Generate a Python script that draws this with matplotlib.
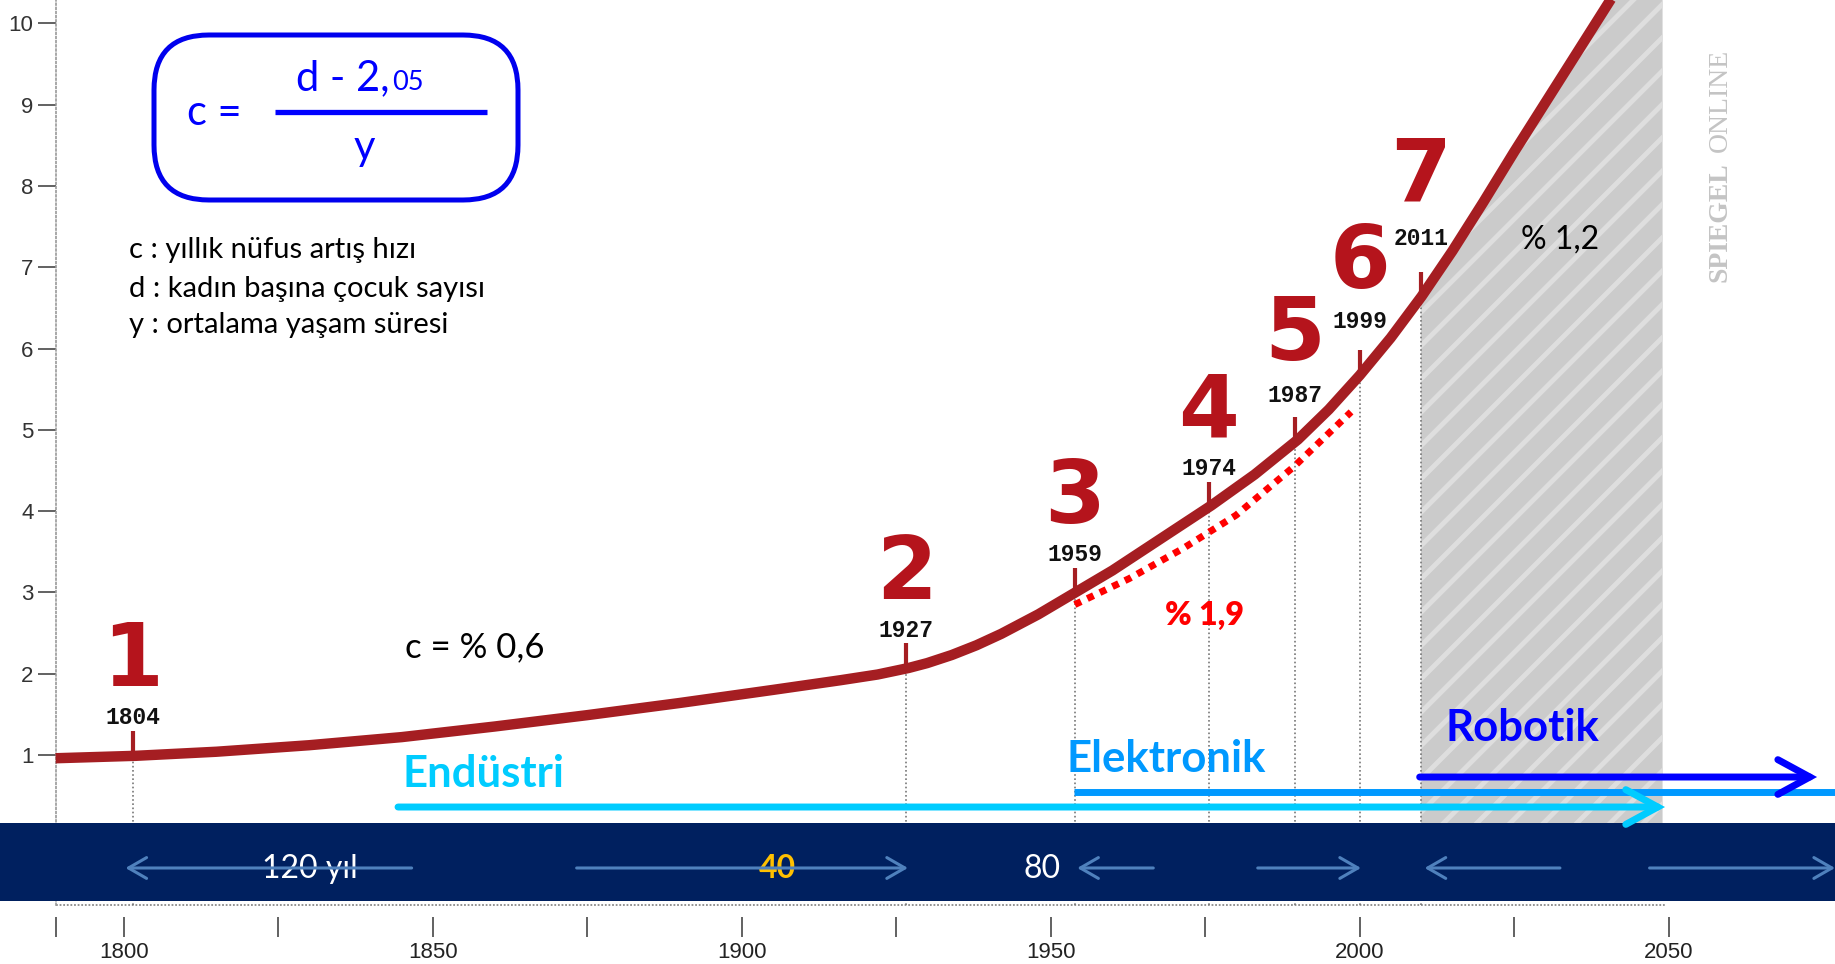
import matplotlib
matplotlib.use("Agg")
import matplotlib.pyplot as plt
import numpy as np
from matplotlib.patches import FancyBboxPatch

plt.rcParams["font.family"] = ["Lato", "DejaVu Sans"]
plt.rcParams["hatch.linewidth"] = 3.5

# World population (billions); x values are read against the chart's own year axis
CURVE_YEARS = [1789, 1802, 1815, 1830, 1845, 1860, 1875, 1890, 1905, 1916, 1922,
               1927, 1930, 1934, 1938, 1942, 1948, 1954, 1960, 1966, 1972, 1976,
               1983, 1990, 1995, 2000, 2005, 2010, 2015, 2020, 2025, 2033, 2043]
CURVE_POP = [0.96, 0.99, 1.04, 1.12, 1.22, 1.35, 1.49, 1.64, 1.80, 1.92, 1.99,
             2.07, 2.13, 2.23, 2.35, 2.49, 2.73, 3.00, 3.27, 3.57, 3.87, 4.07,
             4.45, 4.88, 5.25, 5.67, 6.13, 6.64, 7.20, 7.80, 8.42, 9.38, 10.58]

# billion milestones
MILESTONE_NUMBERS = ["1", "2", "3", "4", "5", "6", "7"]
MILESTONE_LABELS = ["1804", "1927", "1959", "1974", "1987", "1999", "2011"]
MILESTONE_YEARS = [1801.5, 1926.6, 1953.9, 1975.6, 1989.5, 2000.0, 2009.9]

# red dotted 1.9 % growth line
GROWTH_YEARS = [1953.9, 1962.7, 1971.4, 1980.0, 1989.4, 1998.6]
GROWTH_POP = [2.85, 3.17, 3.54, 3.95, 4.55, 5.22]

# projection (shaded) period
PROJ_START = 2009.9
PROJ_END = 2049.0

# technology eras
ERA_NAMES = ["Endüstri", "Elektronik", "Robotik"]
ERA_START = [1844.4, 1953.8, 2009.7]
ERA_END = [2049.4, 2080.0, 2074.0]

# spans in the dark band
SPAN_LABELS = ["120 yıl", "40", "80"]
SPAN_LABEL_YEARS = [1830.1, 1905.8, 1948.6]
BAND_ARROW_TAIL = [1846.6, 1873.3, 1966.6, 1983.5, 2032.4, 2046.9]
BAND_ARROW_TIP = [1800.3, 1926.9, 1954.3, 2000.2, 2010.5, 2076.9]

Y_TICKS = [1, 2, 3, 4, 5, 6, 7, 8, 9, 10]
X_TICKS = [1800, 1850, 1900, 1950, 2000, 2050]
X_MINOR = [1789, 1825, 1875, 1925, 1975, 2025]

CURVE_RED = "#a51e22"
NUMBER_RED = "#b5141c"
NAVY = "#00205f"
BAND_BLUE = "#4f81bd"
ERA_COLORS = ["#00ccff", "#0099ff", "#0000ff"]
PX = 0.72  # points per pixel at dpi 100
LABEL_LIFT = [0, 0, 0, 0, 8, 15, 20]   # extra lift (px) of the year labels
NUMBER_LIFT = [0, 0, 0, 0, 12, 17, 26]  # extra lift (px) of the big numbers

fig = plt.figure(figsize=(18.35, 9.64), dpi=100)
ax = fig.add_axes([0, 0, 1, 1])
ax.set_xlim(1780.0, 2076.9)
ax.set_ylim(-1.571, 10.287)

years = np.array(CURVE_YEARS, dtype=float)
pop = np.array(CURVE_POP, dtype=float)
m_years = np.array(MILESTONE_YEARS)
m_pop = np.interp(m_years, years, pop)

# axes
for side in ("top", "right"):
    ax.spines[side].set_visible(False)
ax.spines["left"].set_position(("data", X_MINOR[0]))
ax.spines["left"].set_bounds(-0.845, 10.287)
ax.spines["left"].set_linestyle((0, (1, 1.5)))
ax.spines["left"].set_color("#9a9a9a")
ax.spines["left"].set_linewidth(1.2)
ax.spines["bottom"].set_position(("data", -0.99))
ax.spines["bottom"].set_visible(False)
ax.hlines(-0.845, X_MINOR[0], 2049.4, colors="#8a8a8a", linestyles=(0, (1, 1)), lw=1.3)

ax.set_yticks(Y_TICKS)
ax.set_yticklabels([str(v) for v in Y_TICKS])
ax.set_xticks(X_TICKS)
ax.set_xticklabels([str(v) for v in X_TICKS])
ax.set_xticks(X_MINOR, minor=True)
ax.tick_params(axis="y", direction="out", length=13, width=1.3, color="#555555",
               pad=3, labelsize=16, labelcolor="#333333")
ax.tick_params(axis="x", which="both", direction="out", length=14.4, width=1.3,
               color="#555555")
ax.tick_params(axis="x", which="major", pad=4, labelsize=16, labelcolor="#222222")
for lbl in ax.get_xticklabels() + ax.get_yticklabels():
    lbl.set_fontfamily("Liberation Sans")

# shaded projection period under the curve
mask = (years > PROJ_START) & (years < PROJ_END)
proj_x = np.concatenate([[PROJ_START], years[mask], [PROJ_END]])
proj_y = np.interp(proj_x, years, pop)
ax.fill_between(proj_x, 0, proj_y, facecolor="#cbcbcb", edgecolor="#dedede",
                hatch="/", lw=0, zorder=2)

# milestone drop lines and ticks
ax.vlines(m_years, -0.845, m_pop, colors="#777777", linestyles=(0, (1, 1.5)),
          lw=1.2, zorder=3)
ax.vlines(m_years, m_pop, m_pop + 0.31, colors=CURVE_RED, lw=3, zorder=6)

# dark band
ax.axhspan(-0.796, 0.164, facecolor=NAVY, edgecolor="none", zorder=4)

# population curve
ax.plot(years, pop, color=CURVE_RED, lw=7.5, solid_capstyle="butt",
        solid_joinstyle="round", zorder=6)

# 1.9 % dotted line
ax.plot(GROWTH_YEARS, GROWTH_POP, color="#ff0000", lw=5, linestyle=(0, (1, 1)),
        dash_capstyle="butt", zorder=6)

# milestone labels
for i, (yr, p, num, lab) in enumerate(zip(m_years, m_pop, MILESTONE_NUMBERS,
                                         MILESTONE_LABELS)):
    ax.annotate(lab, (yr, p), xytext=(0, (32 + LABEL_LIFT[i]) * PX),
                textcoords="offset points", ha="center", va="baseline",
                fontsize=16.5, fontweight="bold", family="Liberation Mono",
                color="#111111", zorder=7)
    ax.annotate(num, (yr, p), xytext=(0, (70 + NUMBER_LIFT[i]) * PX),
                textcoords="offset points", ha="center", va="baseline",
                fontsize=63, fontweight="bold", family="DejaVu Sans",
                color=NUMBER_RED, zorder=7)

# growth-rate annotations
ax.text(1856.8, 2.205, "c = % 0,6", ha="center", va="baseline", fontsize=25,
        color="black", zorder=7)
ax.text(1974.9, 2.60, "% 1,9", ha="center", va="baseline", fontsize=23,
        fontweight="heavy", color="#ff0000", zorder=7)
ax.text(2032.4, 7.236, "% 1,2", ha="center", va="baseline", fontsize=23,
        color="black", zorder=7)

# technology eras
era_levels = [0.36, 0.545, 0.729]
era_label_pos = [(1845.2, 0.606), (1952.6, 0.791), (2013.8, 1.172)]
for k in [1, 0, 2]:
    if k == 1:
        ax.plot([ERA_START[k], ERA_END[k]], [era_levels[k]] * 2, color=ERA_COLORS[k],
                lw=5, solid_capstyle="butt", zorder=5)
    else:
        ax.annotate("", xy=(ERA_END[k], era_levels[k]), xytext=(ERA_START[k], era_levels[k]),
                    arrowprops=dict(arrowstyle="->,head_length=2.3,head_width=1.25",
                                    mutation_scale=10, lw=5, color=ERA_COLORS[k],
                                    shrinkA=0, shrinkB=0, capstyle="round",
                                    joinstyle="miter"),
                    zorder=5)
    ax.text(era_label_pos[k][0], era_label_pos[k][1], ERA_NAMES[k], ha="left",
            va="baseline", fontsize=31.5, fontweight="bold", color=ERA_COLORS[k],
            zorder=7)

# band spans
span_colors = ["white", "#ffc000", "white"]
span_weights = ["normal", "bold", "normal"]
for lab, yr, c, w in zip(SPAN_LABELS, SPAN_LABEL_YEARS, span_colors, span_weights):
    ax.text(yr, -0.51, lab, ha="center", va="baseline", fontsize=23, color=c,
            fontweight=w, zorder=6)
for tail, tip in zip(BAND_ARROW_TAIL, BAND_ARROW_TIP):
    ax.annotate("", xy=(tip, -0.39), xytext=(tail, -0.39),
                arrowprops=dict(arrowstyle="->,head_length=1.3,head_width=0.75",
                                mutation_scale=10, lw=2.2, color=BAND_BLUE,
                                shrinkA=0, shrinkB=0),
                zorder=7)

# formula box (positions in inches from the bottom-left corner)
inch = fig.dpi_scale_trans
blue = "#0000ff"
box = FancyBboxPatch((1.54, 7.64), 3.64, 1.65, boxstyle="round,pad=0,rounding_size=0.55",
                     transform=inch, fill=False, ec="#0000ee", lw=3.6, zorder=8)
ax.add_patch(box)
ax.text(1.87, 8.39, "c =", transform=inch, fontsize=30, color=blue, va="baseline", zorder=8)
ax.text(2.96, 8.74, "d - 2,", transform=inch, fontsize=30, color=blue, va="baseline", zorder=8)
ax.text(3.92, 8.74, "05", transform=inch, fontsize=19.5, color=blue, va="baseline", zorder=8)
ax.plot([2.75, 4.87], [8.52, 8.52], transform=inch, color=blue, lw=3.8,
        solid_capstyle="butt", zorder=8)
ax.text(3.64, 8.04, "y", transform=inch, fontsize=30, color=blue, ha="center",
        va="baseline", zorder=8)

legend_lines = ["c : yıllık nüfus artış hızı",
                "d : kadın başına çocuk sayısı",
                "y : ortalama yaşam süresi"]
for line, base in zip(legend_lines, [7.06, 6.67, 6.31]):
    ax.text(1.29, base, line, transform=inch, fontsize=21, color="black",
            va="baseline", zorder=8)

# watermark
ax.text(17.2, 7.415, "SPIEGEL", transform=inch, rotation=90, ha="center", va="center",
        fontsize=20, fontweight="bold", family="Liberation Serif", color="#c4c4c4")
ax.text(17.2, 8.64, "ONLINE", transform=inch, rotation=90, ha="center", va="center",
        fontsize=20, family="Liberation Serif", color="#c4c4c4")

fig.savefig("out.png", dpi=100)
